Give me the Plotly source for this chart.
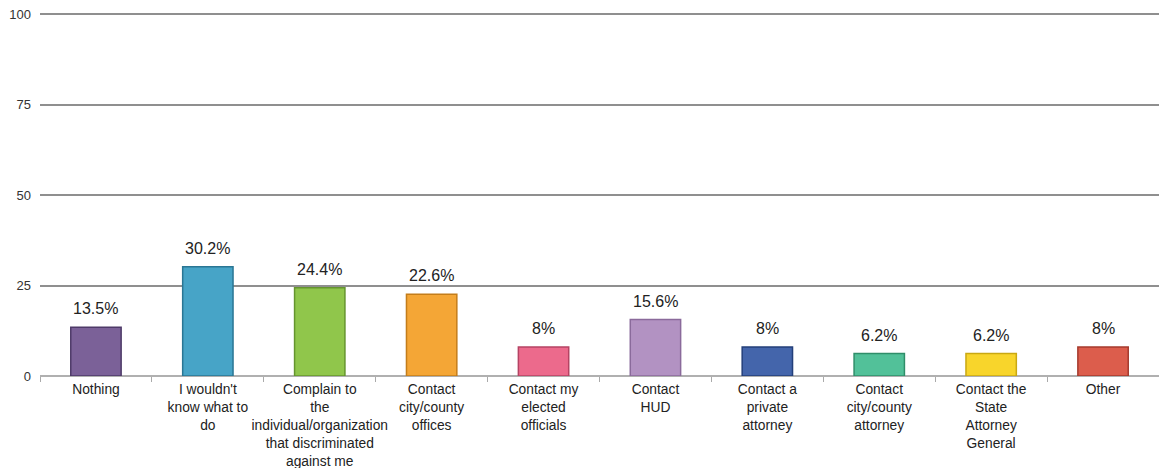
import plotly.graph_objects as go

categories = [
    "Nothing",
    "I wouldn't<br>know what to<br>do",
    "Complain to<br>the<br>individual/organization<br>that discriminated<br>against me",
    "Contact<br>city/county<br>offices",
    "Contact my<br>elected<br>officials",
    "Contact<br>HUD",
    "Contact a<br>private<br>attorney",
    "Contact<br>city/county<br>attorney",
    "Contact the<br>State<br>Attorney<br>General",
    "Other",
]
values = [13.5, 30.2, 24.4, 22.6, 8, 15.6, 8, 6.2, 6.2, 8]
value_labels = ["13.5%", "30.2%", "24.4%", "22.6%", "8%", "15.6%", "8%", "6.2%", "6.2%", "8%"]
fill_colors = ["#7b6198", "#47a4c7", "#90c64b", "#f4a636", "#ec6a8c",
               "#b292c2", "#4465ab", "#52c199", "#f8d52b", "#dc5d4c"]
line_colors = ["#4e3a68", "#2a7694", "#65952e", "#c47d1a", "#b54363",
               "#8a6a9b", "#233f7a", "#2f8e69", "#c9a812", "#a53a2c"]
y_ticks = [0, 25, 50, 75, 100]

FONT = "Liberation Sans, Arial, sans-serif"

fig = go.Figure()
fig.add_trace(go.Bar(
    x=categories, y=values,
    marker=dict(color=fill_colors, line=dict(color=line_colors, width=1.5)),
    width=0.45,
    hoverinfo="skip",
))

for c, v, t in zip(categories, values, value_labels):
    fig.add_annotation(x=c, y=v, text=t, showarrow=False, yanchor="bottom",
                       yshift=8, font=dict(size=16, color="#222222", family=FONT))

fig.update_layout(
    width=1159, height=468,
    margin=dict(l=40, r=0, t=13, b=92),
    plot_bgcolor="white", paper_bgcolor="white",
    showlegend=False,
    font=dict(family=FONT, size=12, color="#222222"),
)
fig.update_xaxes(
    showgrid=False, ticks="outside", tickson="boundaries", ticklen=5,
    tickcolor="#aaaaaa", showline=False, tickfont=dict(size=13.8),
    ticklabelstandoff=3,
    tickangle=0, automargin=False, fixedrange=True,
)
fig.update_yaxes(
    range=[0, 100.3], tickvals=y_ticks, showgrid=True, gridcolor="#8f8f8f",
    gridwidth=1.7, zeroline=True, zerolinecolor="#b0b0b0", zerolinewidth=2,
    ticks="", ticklabelstandoff=8, tickfont=dict(size=13, color="#333333"),
    automargin=False, fixedrange=True,
)
fig.write_html("out.html", config={"displayModeBar": False},
               post_script="document.body.style.margin='0';document.body.style.overflow='hidden';")
